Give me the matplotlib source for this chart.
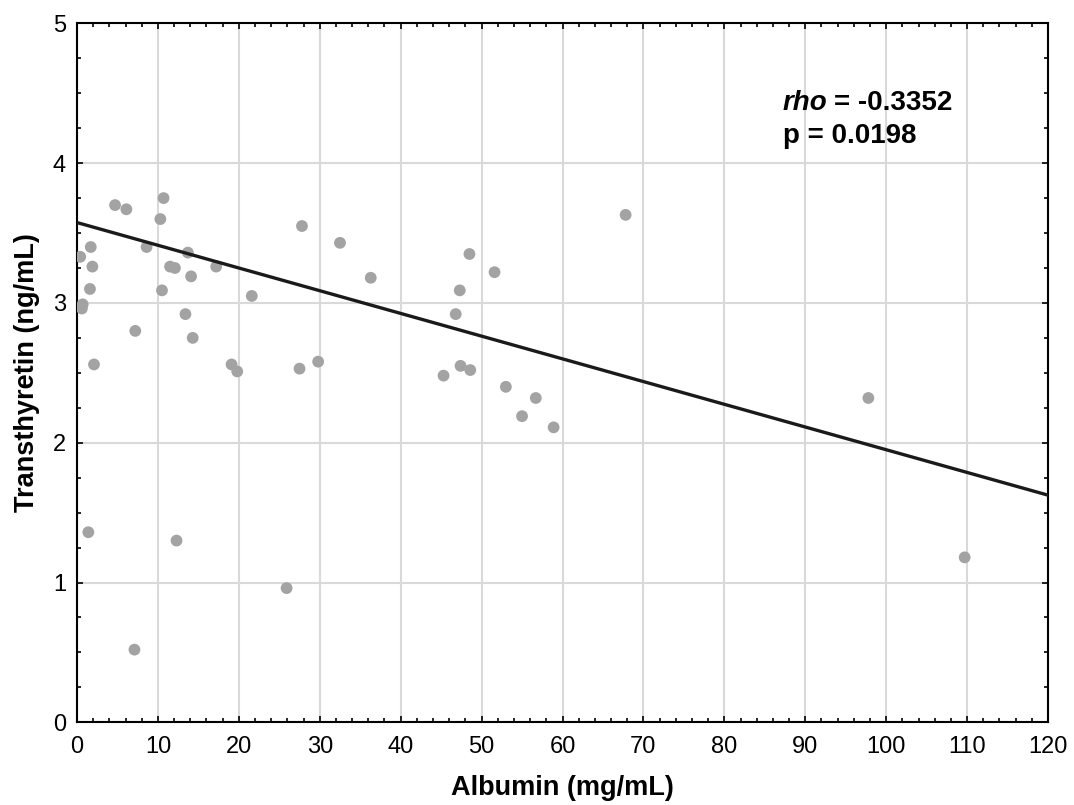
import numpy as np
import matplotlib
matplotlib.use("Agg")
import matplotlib.pyplot as plt
from matplotlib.ticker import MultipleLocator

plt.rcParams['font.family'] = ['Liberation Sans', 'DejaVu Sans']

albumin = [0.4, 0.7, 0.6, 1.7, 1.6, 1.9, 2.1, 1.4, 4.7, 6.1, 7.2, 7.1, 8.6,
           10.7, 10.3, 10.5, 11.5, 12.1, 12.3, 13.4, 13.7, 14.1, 14.3, 17.2,
           19.1, 19.8, 21.6, 25.9, 27.5, 27.8, 29.8, 32.5, 36.3, 45.3, 46.8,
           47.3, 47.4, 48.5, 48.6, 51.6, 53.0, 55.0, 56.7, 58.9, 67.8, 97.8, 109.7]
transthyretin = [3.33, 2.99, 2.96, 3.40, 3.10, 3.26, 2.56, 1.36, 3.70, 3.67, 2.80, 0.52, 3.40,
                 3.75, 3.60, 3.09, 3.26, 3.25, 1.30, 2.92, 3.36, 3.19, 2.75, 3.26,
                 2.56, 2.51, 3.05, 0.96, 2.53, 3.55, 2.58, 3.43, 3.18, 2.48, 2.92,
                 3.09, 2.55, 3.35, 2.52, 3.22, 2.40, 2.19, 2.32, 2.11, 3.63, 2.32, 1.18]

line_intercept = 3.575
line_slope = -0.01625
rho_label = "rho"
rho_value = "= -0.3352"
p_text = "p = 0.0198"

fig = plt.figure(figsize=(10.74, 8.05), dpi=100)
ax = fig.add_axes([0.0717, 0.1027, 0.9041, 0.8683])

ax.scatter(albumin, transthyretin, s=72, color='#a3a3a3', edgecolors='none', zorder=3)
xs = np.array([0, 120])
ax.plot(xs, line_intercept + line_slope * xs, color='#1a1a1a', lw=2.4, zorder=4)

ax.set_xlim(0, 120)
ax.set_ylim(0, 5)
ax.xaxis.set_major_locator(MultipleLocator(10))
ax.xaxis.set_minor_locator(MultipleLocator(2))
ax.yaxis.set_major_locator(MultipleLocator(1))
ax.yaxis.set_minor_locator(MultipleLocator(0.25))
ax.grid(True, which='major', color='#d9d9d9', lw=1.5, zorder=0)
ax.set_axisbelow(True)
ax.tick_params(which='both', direction='in', top=True, right=True, color='black', width=1.2)
ax.tick_params(which='major', length=4, labelsize=17)
ax.tick_params(which='minor', length=3)
ax.tick_params(axis='x', which='major', pad=10)
ax.tick_params(axis='y', which='major', pad=8)
for sp in ax.spines.values():
    sp.set_linewidth(1.5)
    sp.set_color('black')

ax.set_xlabel('Albumin (mg/mL)', fontsize=19.5, fontweight='bold', labelpad=12)
ax.set_ylabel('Transthyretin (ng/mL)', fontsize=19.5, fontweight='bold', labelpad=9)

t = ax.text(0.727, 0.876, rho_label, transform=ax.transAxes, fontsize=20, fontweight='bold',
            style='italic', va='baseline', ha='left')
fig.canvas.draw()
bb = t.get_window_extent().transformed(ax.transAxes.inverted())
ax.text(bb.x1 + 0.006, 0.876, rho_value, transform=ax.transAxes, fontsize=20,
        fontweight='bold', va='baseline', ha='left')
ax.text(0.727, 0.829, p_text, transform=ax.transAxes, fontsize=20,
        fontweight='bold', va='baseline', ha='left')

fig.savefig('out.png', dpi=100)
